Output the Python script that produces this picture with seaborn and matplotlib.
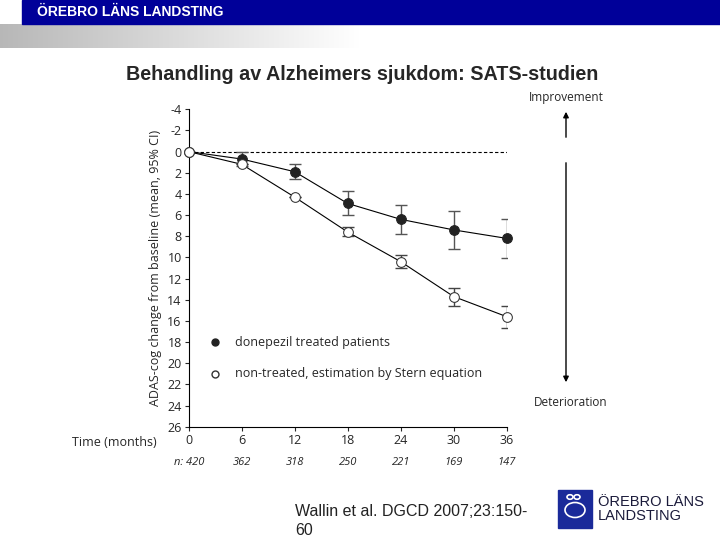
import numpy as np
import pandas as pd
import matplotlib
matplotlib.use('Agg')
import matplotlib.pyplot as plt
from matplotlib.patches import Rectangle, Circle
import seaborn as sns

# data
months = [0, 6, 12, 18, 24, 30, 36]
n_patients = [420, 362, 318, 250, 221, 169, 147]
treated = [0, 0.7, 1.9, 4.9, 6.4, 7.4, 8.2]
treated_lo = [0, 0.0, 1.2, 3.7, 5.0, 5.6, 6.4]
treated_hi = [0, 1.4, 2.6, 6.0, 7.8, 9.2, 10.1]
untreated = [0, 1.2, 4.3, 7.6, 10.4, 13.7, 15.6]
untreated_lo = [0, 1.2, 4.3, 7.1, 9.8, 12.9, 14.6]
untreated_hi = [0, 1.2, 4.3, 8.0, 11.0, 14.6, 16.7]
y_ticks = list(range(-4, 27, 2))

sns.set_style('white')
plt.rcParams['font.family'] = ['Open Sans', 'DejaVu Sans']
plt.rcParams['axes.unicode_minus'] = False

fig = plt.figure(figsize=(7.2, 5.4), dpi=100)

# header band
fig.patches.append(Rectangle((22/720, 1-24/540), 698/720, 24/540, transform=fig.transFigure,
                             color='#000099', zorder=0))
grad = np.linspace(0.72, 1.0, 256).reshape(1, -1)
gax = fig.add_axes([0, 1-48/540, 360/720, 24/540])
gax.imshow(np.dstack([grad, grad, grad]), aspect='auto')
gax.axis('off')
fig.text(37/720, 1-12/540, 'ÖREBRO LÄNS LANDSTING', color='white', fontweight='bold',
         fontsize=10, family='Liberation Sans', va='center')

fig.text(362/720, 1-75/540, 'Behandling av Alzheimers sjukdom: SATS-studien',
         fontweight='bold', fontsize=14.2, family='Liberation Sans', ha='center', va='center')

ax = fig.add_axes([188.7/720, 1-426.7/540, 318/720, 317.4/540])
df_t = pd.DataFrame({'month': months, 'change': treated})
df_u = pd.DataFrame({'month': months, 'change': untreated})

ax.axhline(0, color='black', linestyle=(0, (3, 2)), linewidth=0.8, zorder=1)

t_err = [np.array(treated) - np.array(treated_lo), np.array(treated_hi) - np.array(treated)]
u_err = [np.array(untreated) - np.array(untreated_lo), np.array(untreated_hi) - np.array(untreated)]
ax.errorbar(months, treated, yerr=t_err, fmt='none', ecolor='#555555', elinewidth=1,
            capsize=4, capthick=1, zorder=2)
ax.errorbar(months, untreated, yerr=u_err, fmt='none', ecolor='#444444', elinewidth=1,
            capsize=4, capthick=1, zorder=2)

sns.lineplot(data=df_t, x='month', y='change', ax=ax, color='black', linewidth=0.8,
             marker='o', markersize=7, markerfacecolor='#222222', markeredgecolor='#222222',
             zorder=4, clip_on=False)
sns.lineplot(data=df_u, x='month', y='change', ax=ax, color='black', linewidth=0.8,
             marker='o', markersize=7, markerfacecolor='white', markeredgecolor='#333333',
             zorder=4, clip_on=False)

ax.set_xlim(0, 36)
ax.set_ylim(26, -4)
ax.set_xticks(months)
ax.set_yticks(y_ticks)
ax.tick_params(axis='both', direction='out', length=3, width=0.8, labelsize=9, pad=2,
               left=True, bottom=True)
for s in ['top', 'right']:
    ax.spines[s].set_visible(False)
for s in ['left', 'bottom']:
    ax.spines[s].set_linewidth(0.8)
    ax.spines[s].set_color('black')
ax.set_xlabel('')
ax.set_ylabel('ADAS-cog change from baseline (mean, 95% CI)', fontsize=9, labelpad=4)

# legend text
ax.plot([3.0], [18], 'o', color='#222222', markersize=5)
ax.text(5.2, 18, 'donepezil treated patients', fontsize=9, va='center')
ax.plot([3.0], [21], 'o', markerfacecolor='white', markeredgecolor='#333333', markersize=5)
ax.text(5.2, 21, 'non-treated, estimation by Stern equation', fontsize=9, va='center')

fig.text(72/720, 1-442/540, 'Time (months)', fontsize=9, va='center')
for m, n in zip(months, n_patients):
    label = f'n: {n}' if m == 0 else str(n)
    ax.text(m, -0.112, label, transform=ax.get_xaxis_transform(), fontsize=8,
            style='italic', ha='center', va='center')

# improvement / deterioration arrows
fig.text(566/720, 1-97/540, 'Improvement', fontsize=8.5, ha='center', va='center')
fig.text(571/720, 1-402/540, 'Deterioration', fontsize=8.5, ha='center', va='center')
ax.annotate('', xy=(566/720, 1-109/540), xytext=(566/720, 1-140/540), xycoords='figure fraction',
            arrowprops=dict(arrowstyle='-|>', color='black', lw=1, mutation_scale=8))
ax.annotate('', xy=(566/720, 1-385/540), xytext=(566/720, 1-160/540), xycoords='figure fraction',
            arrowprops=dict(arrowstyle='-|>', color='black', lw=1, mutation_scale=8))

# citation and logo
fig.text(295/720, 1-521/540, 'Wallin et al. DGCD 2007;23:150-\n60', fontsize=11.5,
         family='Liberation Sans', color='#222222', va='center', linespacing=1.3)
fig.patches.append(Rectangle((558/720, 1-528/540), 34/720, 38/540, transform=fig.transFigure,
                             color='#1a2a9a', zorder=1))
for cx, cy, r in [(570, 497, 3), (577, 497, 3), (575, 510, 10)]:
    fig.patches.append(Circle((cx/720, 1-cy/540), r/720, transform=fig.transFigure,
                              fill=False, edgecolor='white', lw=1.2, zorder=2))
fig.text(598/720, 1-509/540, 'ÖREBRO LÄNS\nLANDSTING', fontsize=10.5, color='#1a1a3a',
         family='Liberation Sans', va='center', linespacing=1.0)

plt.savefig('out.png', dpi=100)
